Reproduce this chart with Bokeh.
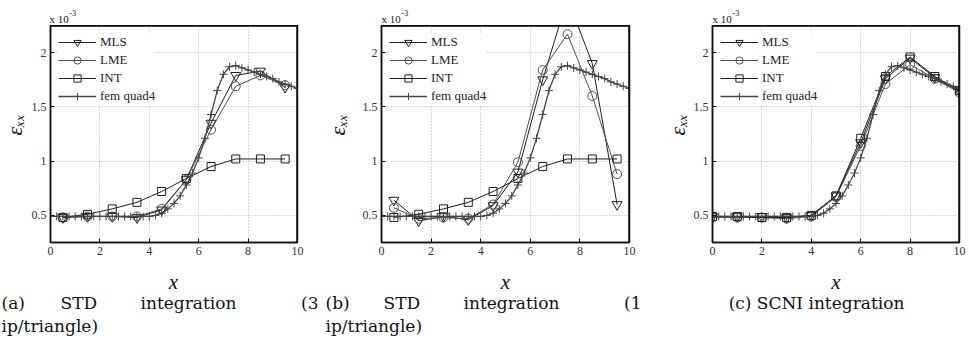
from math import pi
from bokeh.plotting import figure
from bokeh.models import Label, Legend, LegendItem, FixedTicker, Range1d, Span
from bokeh.layouts import row, column
from bokeh.embed import file_html
from bokeh.resources import INLINE

# ---------------- data (strain values, in units of 1e-3) ----------------
x_std = [0.5, 1.5, 2.5, 3.5, 4.5, 5.5, 6.5, 7.5, 8.5, 9.5]
x_scni = [0, 1, 2, 3, 4, 5, 6, 7, 8, 9, 10]

x_fem = [0.0, 0.25, 0.5, 0.75, 1.0, 1.25, 1.5, 1.75, 2.0, 2.25, 2.5, 2.75,
         3.0, 3.25, 3.5, 3.75, 4.0, 4.25, 4.5, 4.75, 5.0, 5.25, 5.5, 5.75,
         6.0, 6.25, 6.5, 6.75, 7.0, 7.25, 7.5, 7.75, 8.0, 8.25, 8.5, 8.75,
         9.0, 9.25, 9.5, 9.75, 10.0]
fem_quad4 = [0.49, 0.49, 0.49, 0.49, 0.49, 0.49, 0.49, 0.49, 0.49, 0.49, 0.49, 0.49,
             0.49, 0.49, 0.49, 0.49, 0.49, 0.50, 0.52, 0.56, 0.61, 0.68, 0.78, 0.89,
             1.03, 1.21, 1.43, 1.65, 1.80, 1.87, 1.88, 1.86, 1.84, 1.82, 1.80, 1.78,
             1.76, 1.73, 1.71, 1.69, 1.67]

# (a) STD integration, 3 ip/triangle
mls_a = [0.48, 0.49, 0.49, 0.48, 0.55, 0.83, 1.35, 1.79, 1.83, 1.68]
lme_a = [0.48, 0.49, 0.49, 0.49, 0.56, 0.83, 1.29, 1.69, 1.79, 1.70]
int_a = [0.48, 0.51, 0.56, 0.62, 0.72, 0.84, 0.95, 1.02, 1.02, 1.02]

# (b) STD integration, 1 ip/triangle
mls_b = [0.64, 0.45, 0.49, 0.46, 0.59, 0.90, 1.75, 2.50, 1.90, 0.60]
lme_b = [0.57, 0.47, 0.48, 0.47, 0.60, 0.99, 1.84, 2.17, 1.60, 0.88]
int_b = [0.48, 0.51, 0.56, 0.62, 0.72, 0.84, 0.95, 1.02, 1.02, 1.02]

# (c) SCNI integration
mls_c = [0.49, 0.49, 0.49, 0.48, 0.50, 0.68, 1.17, 1.76, 1.95, 1.77, 1.64]
lme_c = [0.48, 0.48, 0.48, 0.47, 0.49, 0.67, 1.14, 1.71, 1.89, 1.76, 1.63]
int_c = [0.49, 0.49, 0.48, 0.48, 0.50, 0.68, 1.21, 1.78, 1.96, 1.78, 1.65]

x_ticks = [0, 2, 4, 6, 8, 10]
y_ticks = [0.5, 1, 1.5, 2]
y_tick_labels = {0.5: "0.5", 1: "1", 1.5: "1.5", 2: "2"}
x_range = (0, 10)
y_range = (0.25, 2.25)

series_names = ["MLS", "LME", "INT", "fem quad4"]

# ---------------- styling ----------------
SERIF = "Liberation Serif"
CAP_FONT = "DejaVu Serif"
FIG_W = 323
HEAD_H = 25
TOP, BOTTOM = 0, 20
FRAME_H = 217
MAIN_H = TOP + FRAME_H + BOTTOM
CAP_H = 340 - HEAD_H - MAIN_H
ROW_H = 18

styles = {
    "MLS": dict(marker="inverted_triangle", size=10, color="#1e1e1e"),
    "LME": dict(marker="circle", size=9, color="#505050"),
    "INT": dict(marker="square", size=8, color="#1e1e1e"),
    "fem quad4": dict(marker="cross", size=8, color="#444444"),
}


def text_strip(width, height, labels):
    c = figure(width=width, height=height, x_range=Range1d(0, width), y_range=Range1d(height, 0),
               output_backend="svg", toolbar_location=None, min_border=0,
               x_axis_type=None, y_axis_type=None, outline_line_color=None,
               background_fill_color="white", border_fill_color="white")
    c.xgrid.visible = False
    c.ygrid.visible = False
    for (text, fx, fy, align, font, size, style, baseline, angle) in labels:
        c.add_layout(Label(x=fx, y=fy, text=text, text_font=font, text_font_size=f"{size}px",
                           text_font_style=style, text_align=align, angle=angle,
                           text_baseline=baseline, text_color="#111111"))
    return c


def make_panel(width, bl, br, series):
    p = figure(width=width, height=MAIN_H, x_range=Range1d(*x_range), y_range=Range1d(*y_range),
               output_backend="svg", toolbar_location=None,
               min_border_left=bl, min_border_right=br, min_border_top=TOP,
               min_border_bottom=BOTTOM, background_fill_color="white",
               border_fill_color="white")
    p.outline_line_color = "#111111"
    p.outline_line_width = 1.5

    for ax in (p.xaxis, p.yaxis):
        ax.axis_line_color = "#111111"
        ax.axis_line_width = 1.5
        ax.major_tick_in = 4
        ax.major_tick_out = 0
        ax.minor_tick_line_color = None
        ax.major_tick_line_color = "#111111"
        ax.major_label_text_font = SERIF
        ax.major_label_text_font_size = "12px"
        ax.major_label_text_color = "#333333"
    p.xaxis.ticker = FixedTicker(ticks=x_ticks)
    p.yaxis.ticker = FixedTicker(ticks=y_ticks)
    p.yaxis.major_label_overrides = y_tick_labels
    p.xaxis.major_label_standoff = 4
    p.yaxis.major_label_standoff = 4

    # frame top and right edges
    p.add_layout(Span(location=y_range[1], dimension="width", line_color="#111111", line_width=2.5))
    p.add_layout(Span(location=x_range[1], dimension="height", line_color="#111111", line_width=2.5))

    for g in (p.xgrid, p.ygrid):
        g.grid_line_color = "#b4b4b4"
        g.grid_line_dash = "1 2"
        g.grid_line_width = 1
    p.xgrid.ticker = FixedTicker(ticks=x_ticks)
    p.ygrid.ticker = FixedTicker(ticks=y_ticks)

    items = []
    for name in series_names:
        xs, ys = series[name]
        st = styles[name]
        lw = 1.3 if name == "fem quad4" else 1.0
        r1 = p.line(xs, ys, line_color=st["color"], line_width=lw)
        r2 = p.scatter(xs, ys, marker=st["marker"], size=st["size"], line_color=st["color"],
                       fill_color=None, line_width=1.0)
        items.append(LegendItem(label=name, renderers=[r1, r2]))

    leg_h = 4 * ROW_H + 2 * 5
    leg = Legend(items=items, location=(8, FRAME_H + 2 - leg_h), margin=0, padding=5, spacing=0,
                 glyph_width=38, glyph_height=ROW_H, label_height=ROW_H, label_standoff=4,
                 label_text_font=SERIF, label_text_font_size="13px",
                 label_text_color="#222222", background_fill_color="white",
                 background_fill_alpha=1.0, border_line_color=None)
    p.add_layout(leg)
    return p


def ylabel_strip(width, eps_x):
    return text_strip(width, MAIN_H, [("εₓₓ", eps_x, TOP + FRAME_H / 2, "center", SERIF, 22,
                                       "italic", "middle", pi / 2)])


def make_head(frame_left):
    return text_strip(FIG_W, HEAD_H,
                      [("x 10", frame_left, 18, "left", SERIF, 11, "normal", "alphabetic", 0),
                       ("-3", frame_left + 20, 12, "left", SERIF, 8, "normal", "alphabetic", 0)])


def make_caption(frame_left, frame_right, caption):
    xlab = [("x", (frame_left + frame_right) / 2, 19, "center", SERIF, 21, "italic",
             "alphabetic", 0)]
    return text_strip(FIG_W, CAP_H, xlab + [(t, fx, fy, al, CAP_FONT, 17, "normal", "alphabetic", 0)
                                            for (t, fx, fy, al) in caption])


# panel (a): frame 49..297, (b): 58..306, (c): 66..313 within each 323-px column
ya = ylabel_strip(28, 14)
pa = make_panel(FIG_W - 28, 21, 26, {"MLS": (x_std, mls_a), "LME": (x_std, lme_a),
                                     "INT": (x_std, int_a), "fem quad4": (x_fem, fem_quad4)})
yb = ylabel_strip(28, 14)
pb = make_panel(FIG_W - 28, 30, 17, {"MLS": (x_std, mls_b), "LME": (x_std, lme_b),
                                     "INT": (x_std, int_b), "fem quad4": (x_fem, fem_quad4)})
yc = ylabel_strip(44, 31)
pc = make_panel(FIG_W - 44, 22, 10, {"MLS": (x_scni, mls_c), "LME": (x_scni, lme_c),
                                     "INT": (x_scni, int_c), "fem quad4": (x_fem, fem_quad4)})

cap_top = HEAD_H + MAIN_H
L1, L2 = 302 - cap_top, 325 - cap_top
ca = make_caption(49, 297, [("(a)", 1, L1, "left"), ("STD", 60, L1, "left"),
                            ("integration", 140, L1, "left"), ("(3", 318, L1, "right"),
                            ("ip/triangle)", 1, L2, "left")])
cb = make_caption(58, 306, [("(b)", 2, L1, "left"), ("STD", 60, L1, "left"),
                            ("integration", 140, L1, "left"), ("(1", 318, L1, "right"),
                            ("ip/triangle)", 2, L2, "left")])
cc = make_caption(66, 313, [("(c) SCNI integration", 170, L1, "center")])

layout = column(row(make_head(49), make_head(58), make_head(66)),
                row(ya, pa, yb, pb, yc, pc),
                row(ca, cb, cc))
open("out.html", "w").write(file_html(layout, INLINE))
